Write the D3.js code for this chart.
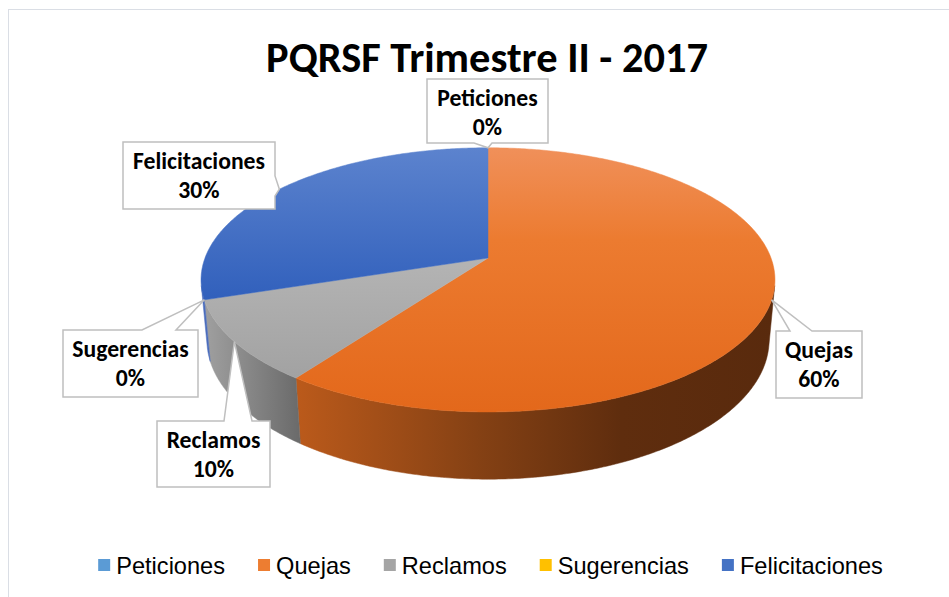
<!DOCTYPE html>
<meta charset="utf-8" />
<title>PQRSF Trimestre II - 2017</title>
<style>
  body { margin: 0; background: #fff; }
  svg { display: block; }
  .title, .label text {
    font-family: Carlito, Calibri, Lato, "Open Sans", sans-serif;
    font-weight: bold;
    fill: #000;
  }
  .legend text {
    font-family: "Liberation Sans", Arial, sans-serif;
    fill: #000;
  }
  .label path {
    fill: #fff;
    stroke: #bfbfbf;
    stroke-width: 1.5px;
  }
</style>

<body>
  <svg width="949" height="597"></svg>

  <script src="https://cdn.jsdelivr.net/npm/d3@7/dist/d3.min.js"></script>
  <script>
    // data
    const categories = ["Peticiones", "Quejas", "Reclamos", "Sugerencias", "Felicitaciones"];
    const values = [0, 60, 10, 0, 30];
    const colors = ["#5b9bd5", "#ed7d31", "#a5a5a5", "#ffc000", "#4472c4"];
    const chartTitle = "PQRSF Trimestre II - 2017";

    const svg = d3.select("svg");
    const defs = svg.append("defs");

    // chart frame
    svg.append("rect")
      .attr("x", 8.5).attr("y", 9.5)
      .attr("width", 960).attr("height", 600)
      .attr("fill", "#fff")
      .attr("stroke", "#dadee5");

    // title
    const title = svg.append("text")
      .attr("class", "title")
      .attr("x", 487).attr("y", 72)
      .attr("text-anchor", "middle")
      .style("font-size", "36px")
      .text(chartTitle);
    const tw = title.node().getComputedTextLength();
    title.style("font-size", (36 * 442 / tw) + "px");

    // 3D pie projection (tilted disc seen in perspective)
    const cx = 488, cy = 258, R = 283, H = 68;
    const tilt = 27 * Math.PI / 180, dist = 1524;
    function proj(theta, level) {
      const x = R * Math.sin(theta), z = -R * Math.cos(theta), y = -level * H;
      const yv = y * Math.cos(tilt) - z * Math.sin(tilt);
      const zv = z * Math.cos(tilt) + y * Math.sin(tilt);
      const s = dist / (dist - zv);
      return [cx + x * s, cy - yv * s];
    }
    function arcPoints(a0, a1, level) {
      const n = Math.max(2, Math.ceil((a1 - a0) / 0.01));
      return d3.range(n + 1).map(i => proj(a0 + (a1 - a0) * i / n, level));
    }

    const arcs = d3.pie().sort(null).value(d => d)(values);
    const total = d3.sum(values);
    const line = d3.line();

    // shading stops (style only)
    const topStops = {
      1: [[0, "#f0905a"], [0.35, "#ec7b30"], [1, "#e3681b"]],
      2: [[0, "#b4b4b4"], [1, "#a2a2a2"]],
      4: [[0, "#5c83ce"], [1, "#3160bc"]]
    };
    const wallStops = {
      1: [[0, "#bb5a1b"], [0.38, "#854114"], [0.68, "#5f2d0e"], [1, "#592a0d"]],
      2: [[0, "#a0a0a0"], [1, "#6a6a6a"]],
      4: [[0, "#4a6cbc"], [1, "#4a6cbc"]]
    };
    function gradient(id, stops, x1, y1, x2, y2) {
      const g = defs.append("linearGradient").attr("id", id)
        .attr("gradientUnits", "userSpaceOnUse")
        .attr("x1", x1).attr("y1", y1).attr("x2", x2).attr("y2", y2);
      stops.forEach(s => g.append("stop").attr("offset", s[0]).attr("stop-color", s[1]));
      return "url(#" + id + ")";
    }

    // side walls, only the part facing the viewer
    const vis0 = 102 * Math.PI / 180, vis1 = 258 * Math.PI / 180;
    const walls = svg.append("g");
    arcs.forEach((a, i) => {
      const s = Math.max(a.startAngle, vis0), e = Math.min(a.endAngle, vis1);
      if (e <= s) return;
      const pts = arcPoints(s, e, 0).concat(arcPoints(s, e, 1).reverse());
      const [x0, x1] = d3.extent(pts, p => p[0]);
      const fill = wallStops[i] ? gradient("wall" + i, wallStops[i], x0, 0, x1, 0) : colors[i];
      walls.append("path").attr("d", line(pts) + "Z").attr("fill", fill)
        .attr("stroke", fill).attr("stroke-width", 0.5);
    });

    // top faces
    const tops = svg.append("g");
    arcs.forEach((a, i) => {
      if (a.endAngle - a.startAngle <= 0) return;
      const pts = [[cx, cy]].concat(arcPoints(a.startAngle, a.endAngle, 0));
      const [y0, y1] = d3.extent(pts, p => p[1]);
      const fill = topStops[i] ? gradient("top" + i, topStops[i], 0, y0, 0, y1) : colors[i];
      tops.append("path").attr("d", line(pts) + "Z").attr("fill", fill)
        .attr("stroke", fill).attr("stroke-width", 0.5);
    });

    // data label callouts: box position and pointer base, tip on the slice rim
    const labelBoxes = [
      { i: 0, x: 427, y: 79, w: 121, h: 64, side: "bottom", base: [474, 492] },
      { i: 1, x: 776, y: 331, w: 86, h: 67, side: "top", base: [790, 812] },
      { i: 2, x: 157, y: 421, w: 113, h: 66, side: "top", base: [224, 252] },
      { i: 3, x: 63, y: 330, w: 135, h: 67, side: "top", base: [142, 176] },
      { i: 4, x: 123, y: 142, w: 152, h: 67, side: "right", base: [176, 196] }
    ];
    function calloutPath(b, tip) {
      const r = b.x + b.w, btm = b.y + b.h, [p, q] = b.base;
      let pts;
      if (b.side === "top") {
        pts = [[b.x, b.y], [p, b.y], tip, [q, b.y], [r, b.y], [r, btm], [b.x, btm]];
      } else if (b.side === "bottom") {
        pts = [[b.x, b.y], [r, b.y], [r, btm], [q, btm], tip, [p, btm], [b.x, btm]];
      } else {
        pts = [[b.x, b.y], [r, b.y], [r, p], tip, [r, q], [r, btm], [b.x, btm]];
      }
      return line(pts) + "Z";
    }
    const pct = d3.format(".0%");
    const labels = svg.selectAll("g.label")
      .data(labelBoxes)
      .enter()
      .append("g")
      .attr("class", "label");
    labels.append("path")
      .attr("d", b => {
        const a = arcs[b.i];
        return calloutPath(b, proj((a.startAngle + a.endAngle) / 2, 0));
      });
    labels.append("text")
      .attr("class", "l1")
      .attr("x", b => b.x + b.w / 2).attr("y", b => b.y + 27)
      .attr("text-anchor", "middle")
      .style("font-size", "20px")
      .text(b => categories[b.i]);
    labels.append("text")
      .attr("x", b => b.x + b.w / 2).attr("y", b => b.y + 56)
      .attr("text-anchor", "middle")
      .style("font-size", "20px")
      .text(b => pct(values[b.i] / total));
    const lw = labels.filter(b => b.i === 4).select("text.l1").node().getComputedTextLength();
    labels.selectAll("text").style("font-size", (20 * 132 / lw) + "px");

    // legend
    const legend = svg.append("g").attr("class", "legend");
    const items = legend.selectAll("g")
      .data(categories)
      .enter()
      .append("g");
    items.append("rect")
      .attr("width", 12).attr("height", 12)
      .attr("y", 559)
      .attr("fill", (d, i) => colors[i]);
    const ltext = items.append("text")
      .attr("y", 574)
      .style("font-size", "23px")
      .text(d => d);
    const fw = ltext.filter(d => d === "Felicitaciones").node().getComputedTextLength();
    ltext.style("font-size", (23 * 143 / fw) + "px");
    const widths = ltext.nodes().map(n => n.getComputedTextLength() + 18);
    const gap = 33;
    const totalW = d3.sum(widths) + gap * (widths.length - 1);
    let lx = 490.5 - totalW / 2;
    items.each(function (d, i) {
      d3.select(this).attr("transform", `translate(${lx},0)`);
      d3.select(this).select("text").attr("x", 18);
      lx += widths[i] + gap;
    });
  </script>
</body>
